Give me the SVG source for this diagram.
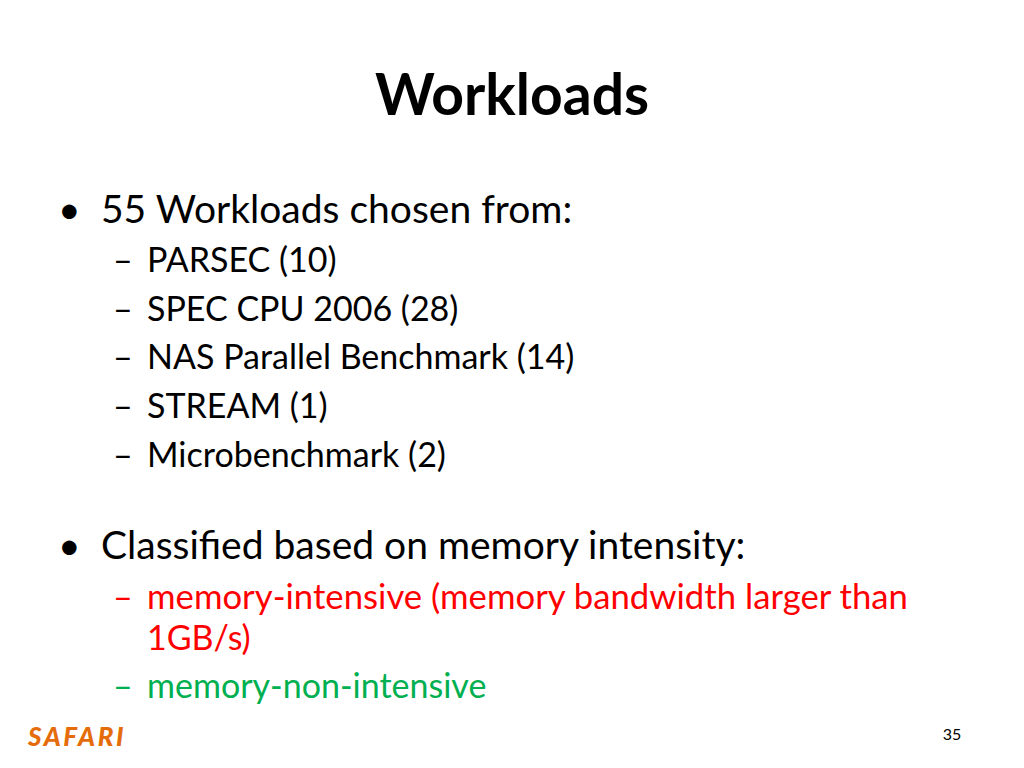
<svg xmlns="http://www.w3.org/2000/svg" width="1024" height="768" viewBox="0 0 1024 768">
<style>
text{font-family:Lato,"Open Sans","Liberation Sans",sans-serif;fill:#000}
.l1{font-size:39px}
.l2{font-size:34px}
.r{fill:#FF0000}
.g{fill:#00B050}
</style>
<rect width="1024" height="768" fill="#fff"/>
<text x="512" y="115" text-anchor="middle" font-size="57" font-weight="bold">Workloads</text>
<g id="b1">
<text x="58" y="223" class="l1">•</text>
<text x="101" y="223" class="l1">55 Workloads chosen from:</text>
<g class="l2">
<text x="113" y="272">–</text><text x="147" y="272">PARSEC (10)</text>
<text x="113" y="321">–</text><text x="147" y="321">SPEC CPU 2006 (28)</text>
<text x="113" y="369">–</text><text x="147" y="369">NAS Parallel Benchmark (14)</text>
<text x="113" y="418">–</text><text x="147" y="418">STREAM (1)</text>
<text x="113" y="467">–</text><text x="147" y="467">Microbenchmark (2)</text>
</g>
</g>
<g id="b2">
<text x="58" y="559" class="l1">•</text>
<text x="101" y="559" class="l1">Classified based on memory intensity:</text>
<text x="113" y="609" class="l2 r">–</text><text x="147" y="609" class="l2 r" textLength="761" lengthAdjust="spacingAndGlyphs">memory-intensive (memory bandwidth larger than</text>
<text x="147" y="650" class="l2 r">1GB/s)</text>
<text x="113" y="698" class="l2 g">–</text><text x="147" y="698" class="l2 g">memory-non-intensive</text>
</g>
<text x="28" y="746" font-size="26" font-weight="900" font-style="italic" style="fill:#E46C0A;letter-spacing:2.5px">SAFARI</text>
<text x="952" y="740" text-anchor="middle" font-size="16">35</text>
</svg>
